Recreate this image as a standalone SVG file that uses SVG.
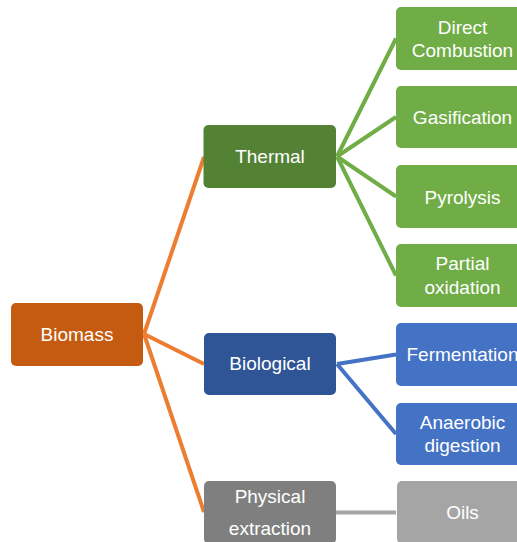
<svg xmlns="http://www.w3.org/2000/svg" width="517" height="542" viewBox="0 0 517 542">
<style>
.n rect{rx:5;ry:5}
text{font-family:"Liberation Sans",Arial,sans-serif;font-size:19px;fill:#fff;text-anchor:middle}
.c line{stroke-width:4;stroke-linecap:butt}
</style>
<rect width="517" height="542" fill="#fff"/>
<g class="c" id="connectors">
<line x1="144" y1="334" x2="204" y2="157" stroke="#ED7D31"/>
<line x1="144" y1="334" x2="204" y2="364" stroke="#ED7D31"/>
<line x1="144" y1="334" x2="204" y2="512" stroke="#ED7D31"/>
<line x1="337" y1="156.5" x2="396" y2="38.5" stroke="#70AD47"/>
<line x1="337" y1="156.5" x2="396" y2="117" stroke="#70AD47"/>
<line x1="337" y1="156.5" x2="396" y2="196.5" stroke="#70AD47"/>
<line x1="337" y1="156.5" x2="396" y2="275.5" stroke="#70AD47"/>
<line x1="337" y1="364" x2="396" y2="354.5" stroke="#4472C4"/>
<line x1="337" y1="364" x2="396" y2="434" stroke="#4472C4"/>
<line x1="336" y1="512.5" x2="396" y2="512.5" stroke="#A5A5A5"/>
</g>
<g class="n" id="biomass"><rect x="11" y="303" width="132" height="63" fill="#C55A11"/><text x="77" y="341">Biomass</text></g>
<g class="n" id="thermal"><rect x="203.5" y="125" width="132.5" height="63" fill="#548235"/><text x="270" y="163">Thermal</text></g>
<g class="n" id="biological"><rect x="204" y="333" width="132" height="62" fill="#2F5597"/><text x="270" y="370">Biological</text></g>
<g class="n" id="physical"><rect x="204" y="481" width="132" height="63" fill="#7F7F7F"/><text x="270" y="502.5">Physical</text><text x="270" y="535">extraction</text></g>
<g class="n" id="direct"><rect x="396" y="7" width="133" height="63" fill="#70AD47"/><text x="462.5" y="33.5">Direct</text><text x="462.5" y="57">Combustion</text></g>
<g class="n" id="gasification"><rect x="396" y="86" width="133" height="62" fill="#70AD47"/><text x="462.5" y="124">Gasification</text></g>
<g class="n" id="pyrolysis"><rect x="396" y="165" width="133" height="63" fill="#70AD47"/><text x="462.5" y="203.5">Pyrolysis</text></g>
<g class="n" id="partial"><rect x="396" y="244" width="133" height="63" fill="#70AD47"/><text x="462.5" y="270">Partial</text><text x="462.5" y="293.5">oxidation</text></g>
<g class="n" id="fermentation"><rect x="396" y="323" width="133" height="63" fill="#4472C4"/><text x="462.5" y="361">Fermentation</text></g>
<g class="n" id="anaerobic"><rect x="396" y="403" width="133" height="62" fill="#4472C4"/><text x="462.5" y="428.5">Anaerobic</text><text x="462.5" y="452">digestion</text></g>
<g class="n" id="oils"><rect x="397" y="481" width="133" height="63" fill="#A5A5A5"/><text x="462.5" y="518.5">Oils</text></g>
</svg>
